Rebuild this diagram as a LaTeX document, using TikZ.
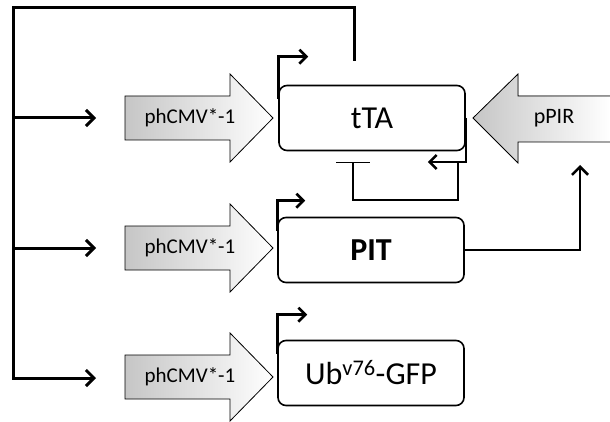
\documentclass[tikz,border=0pt]{standalone}
\usepackage{fontspec}
\setmainfont{Carlito}
\usetikzlibrary{positioning, arrows.meta, calc}

\begin{document}
\begin{tikzpicture}[
    x=1pt, y=-1pt,
    gene/.style={
        draw,
        line width=1.6pt,
        rounded corners=8pt,
        fill=white,
        minimum width=186pt,
        minimum height=65pt,
        font=\fontsize{32}{36}\selectfont
    },
    promoter/.style={
        draw,
        line width=0.8pt,
        left color=gray!45,
        right color=white
    },
    plabel/.style={inner sep=0pt, font=\fontsize{21}{24}\selectfont},
    busline/.style={line width=3pt},
    arrow/.style={-{Straight Barb[length=8pt, width=16pt]}},
    tss/.style={line width=2.6pt, -{Straight Barb[length=7pt, width=14pt]}},
    repress/.style={line width=1.5pt, -{Bar[width=34pt]}}
]
\useasboundingbox (0,0) rectangle (610,422);

% Genes
\node[gene] (tta) at (372,118) {tTA};
\node[gene, font=\fontsize{32}{36}\selectfont\bfseries] (pit) at (371,250) {PIT};
\node[gene] (ubgfp) at (371,373) {Ub\textsuperscript{v76}-GFP};

% phCMV*-1 promoters
\draw[promoter] (125,96) -- (230,96) -- (230,74) -- (273,118) -- (230,162) -- (230,140) -- (125,140) -- cycle;
\draw[promoter] (125,226) -- (230,226) -- (230,204) -- (273,248) -- (230,292) -- (230,270) -- (125,270) -- cycle;
\draw[promoter] (125,355) -- (230,355) -- (230,333) -- (273,377) -- (230,421) -- (230,399) -- (125,399) -- cycle;
\node[plabel] (cmv1) at (190,118) {phCMV*-1};
\node[plabel] (cmv2) at (190,248) {phCMV*-1};
\node[plabel] (cmv3) at (190,377) {phCMV*-1};

% pPIR promoter
\fill[left color=gray!45, right color=white] (473,118) -- (518,74) -- (518,96) -- (610,96) -- (610,142) -- (518,142) -- (518,163) -- cycle;
\draw[line width=0.8pt] (610,96) -- (518,96) -- (518,74) -- (473,118) -- (518,163) -- (518,142) -- (610,142);
\node[plabel, font=\fontsize{22}{24}\selectfont] (ppir) at (554,118) {pPIR};

% Transcription starts
\draw[tss] ([yshift=-14pt]tta.north west) -- ++(0,-42) -- ++(30,0);
\draw[tss] ([yshift=-14pt]pit.north west) -- ++(0,-30) -- ++(28,0);
\draw[tss] ([yshift=-14pt]ubgfp.north west) -- ++(0,-39) -- ++(30,0);
\draw[tss] (tta.east) -- ++(0,44) -- ++(-38,0);

% Feedback bus
\coordinate (fb) at (354,61);
\coordinate (corner) at (13,8);
\coordinate (b1) at (13,118);
\coordinate (b2) at (13,248);
\coordinate (in1) at (96,118);
\coordinate (in2) at (96,248);
\coordinate (in3) at (96,378);
\draw[busline, arrow] (fb) |- (corner) |- (in3);
\draw[busline, arrow] (b1) -- (in1);
\draw[busline, arrow] (b2) -- (in2);

% Repression loop
\coordinate (lp) at (458,162);
\coordinate (tb) at (353,162);
\draw[repress] (lp) -- ++(0,38) -| (tb);

% PIT acts on pPIR
\coordinate (pin) at (580,165);
\draw[busline, line width=2.6pt, arrow] (pit.east) -| (pin);

\end{tikzpicture}
\end{document}
